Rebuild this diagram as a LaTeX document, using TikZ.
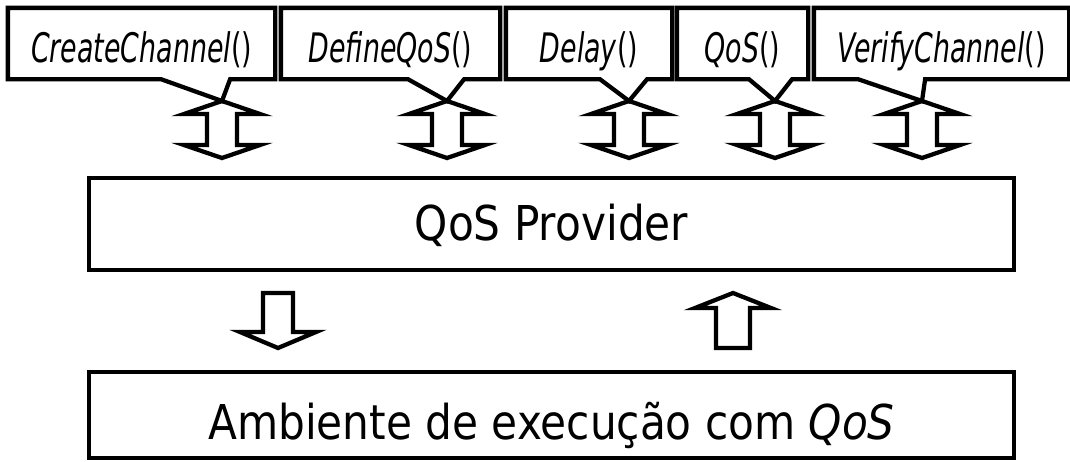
\documentclass[tikz,border=0pt]{standalone}
\usepackage{fontspec}
\newfontfamily\callfont[FakeStretch=0.66]{DejaVu Sans}
\newfontfamily\boxfont[FakeStretch=0.88]{DejaVu Sans}
\usetikzlibrary{calc}

\begin{document}
\begin{tikzpicture}[x=0.75pt, y=-0.75pt, line width=3.2pt, line join=miter,
    call/.style={inner sep=0pt, minimum height=50.25pt, text height=30pt, text depth=0.8pt,
        font=\callfont\itshape\fontsize{30.5}{36}\selectfont},
    layer/.style={draw, line width=3.6pt, inner sep=0pt, minimum width=693.75pt, font=\boxfont\fontsize{36}{42}\selectfont},
    dblarrow/.pic={
        \draw[fill=white] (0,0) -- (38,13) -- (15,13) -- (15,44) -- (38,44) -- (0,57)
            -- (-38,44) -- (-15,44) -- (-15,13) -- (-38,13) -- cycle;
        \coordinate (-tip) at (0,0);
    },
    downarrow/.pic={
        \draw[fill=white] (-15,0) -- (15,0) -- (15,39) -- (38,39) -- (0,55) -- (-38,39) -- (-15,39) -- cycle;
    },
    uparrow/.pic={
        \draw[fill=white] (0,0) -- (38,15) -- (17,15) -- (17,55) -- (-17,55) -- (-17,15) -- (-38,15) -- cycle;
    }]
    \useasboundingbox (0,0) rectangle (1070,461);

    % calls offered to the application
    \node[call, minimum width=197.25pt] (create) at (141.5,43.5) {CreateChannel\textup{()}};
    \node[call, minimum width=161.25pt] (define) at (390.5,43.5) {DefineQoS\textup{()}};
    \node[call, minimum width=121.5pt] (delay) at (589,43.5) {Delay\textup{()}};
    \node[call, minimum width=95.25pt] (qos) at (742.5,43.5) {QoS\textup{()}};
    \node[call, minimum width=188.25pt] (verify) at (941.5,43.5) {VerifyChannel\textup{()}};

    \pic (a1) at (222,101) {dblarrow};
    \pic (a2) at (447,101) {dblarrow};
    \pic (a3) at (629,101) {dblarrow};
    \pic (a4) at (775,101) {dblarrow};
    \pic (a5) at (922,101) {dblarrow};

    \draw ($(create.south west)+(153,0)$) -- (create.south west) -- (create.north west) -- (create.north east)
        -- (create.south east) -- ($(create.south east)+(-45,0)$) -- (a1-tip) -- cycle;
    \draw ($(define.south west)+(127,0)$) -- (define.south west) -- (define.north west) -- (define.north east)
        -- (define.south east) -- ($(define.south east)+(-36,0)$) -- (a2-tip) -- cycle;
    \draw ($(delay.south west)+(94,0)$) -- (delay.south west) -- (delay.north west) -- (delay.north east)
        -- (delay.south east) -- ($(delay.south east)+(-25,0)$) -- (a3-tip) -- cycle;
    \draw ($(qos.south west)+(72,0)$) -- (qos.south west) -- (qos.north west) -- (qos.north east)
        -- (qos.south east) -- ($(qos.south east)+(-16,0)$) -- (a4-tip) -- cycle;
    \draw ($(verify.south west)+(44,0)$) -- (verify.south west) -- (verify.north west) -- (verify.north east)
        -- (verify.south east) -- ($(verify.south east)+(-144,0)$) -- (a5-tip) -- cycle;

    % provider and execution environment
    \node[layer, minimum height=69pt, text height=25pt, text depth=1pt] (provider) at (551.5,224) {QoS Provider};
    \node[layer, minimum height=64.5pt, text height=36pt, text depth=0pt] (env) at (551.5,415)
        {Ambiente de execução com \textit{QoS}};

    \pic at (278,293) {downarrow};
    \pic at (733,293) {uparrow};
\end{tikzpicture}
\end{document}
